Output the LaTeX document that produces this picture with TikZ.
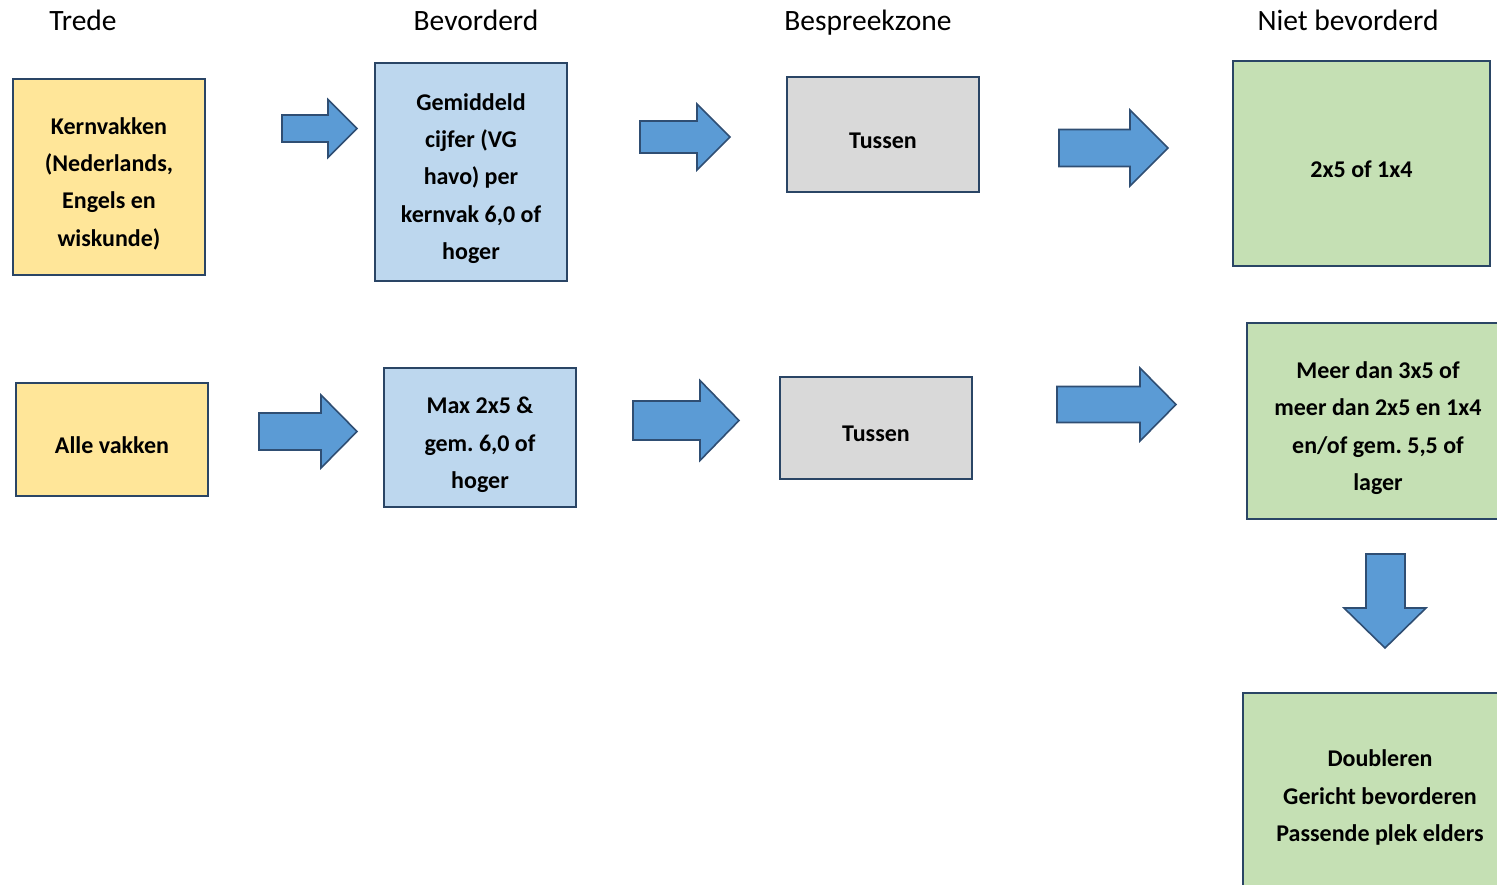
\documentclass[tikz,border=0pt]{standalone}
\usepackage{fontspec}
\setmainfont{Carlito}
\frenchspacing
\definecolor{edge}{HTML}{2A4565}
\definecolor{yel}{HTML}{FFE699}
\definecolor{lblue}{HTML}{BDD7EE}
\definecolor{lgrey}{HTML}{D9D9D9}
\definecolor{lgreen}{HTML}{C5E0B4}
\definecolor{arrfill}{HTML}{5B9BD5}
\definecolor{arredge}{HTML}{2F4E73}
\tikzset{
  box/.style={draw=edge, line width=2pt, inner sep=0pt},
  txt/.style={align=center, inner sep=0pt,
    font=\fontsize{24}{37.4}\selectfont\bfseries},
  hdr/.style={font=\fontsize{29.5}{32}\selectfont, inner sep=0pt, anchor=base},
  blockarrow/.style={draw=arredge, fill=arrfill, line width=1.6pt, line join=miter},
}
\newcommand{\rarrow}[6]{% x0 x1 xh ymid shafthalf headhalf
  \draw[blockarrow] (#1,#4-#5) -- (#3,#4-#5) -- (#3,#4-#6) -- (#2,#4) -- (#3,#4+#6) -- (#3,#4+#5) -- (#1,#4+#5) -- cycle;}
\begin{document}
\begin{tikzpicture}[x=1pt,y=-1pt]
\useasboundingbox (0,0) rectangle (1497,885);
\clip (0,0) rectangle (1497,885);
% headers
\node[hdr] (h1) at (83,31) {Trede};
\node[hdr] (h2) at (476,31) {Bevorderd};
\node[hdr] (h3) at (868,31) {Bespreekzone};
\node[hdr] (h4) at (1348,31) {Niet bevorderd};
% row 1 boxes
\node[box, fill=yel, minimum width=192pt, minimum height=196pt] (kern) at (109,177) {};
\node[box, fill=lblue, minimum width=192pt, minimum height=218pt] (gem) at (471,172) {};
\node[box, fill=lgrey, minimum width=192pt, minimum height=115pt] (t1) at (883,134.5) {};
\node[box, fill=lgreen, minimum width=257pt, minimum height=205pt] (n1) at (1361.5,163.5) {};
% row 2 boxes
\node[box, fill=yel, minimum width=192pt, minimum height=113pt] (alle) at (112,439.5) {};
\node[box, fill=lblue, minimum width=192pt, minimum height=139pt] (max) at (480,437.5) {};
\node[box, fill=lgrey, minimum width=192pt, minimum height=102pt] (t2) at (876,428) {};
\node[box, fill=lgreen, minimum width=290pt, minimum height=196pt] (meer) at (1392,421) {};
\node[box, fill=lgreen, minimum width=290pt, minimum height=260pt] (doub) at (1388,823) {};
% texts
\node[txt] (kernt) at (109,183.5) {Kernvakken\\(Nederlands,\\Engels en\\wiskunde)};
\node[txt] (gemt) at (471,178.5) {Gemiddeld\\cijfer (VG\\havo) per\\kernvak 6,0 of\\hoger};
\node[txt] (t1t) at (883,140.5) {Tussen};
\node[txt] (n1t) at (1361.5,169) {2x5 of 1x4};
\node[txt] (allet) at (112,445) {Alle vakken};
\node[txt] (maxt) at (480,445) {Max 2x5 \&\\gem. 6,0 of\\hoger};
\node[txt] (t2t) at (876,434) {Tussen};
\node[txt] (meert) at (1378,428) {Meer dan 3x5 of\\meer dan 2x5 en 1x4\\en/of gem. 5,5 of\\lager};
\node[txt] (doubt) at (1380,797.5) {Doubleren\\Gericht bevorderen\\Passende plek elders};
% arrows
\rarrow{282}{357}{328}{128.5}{13.5}{29}
\rarrow{640}{730}{697}{137}{16}{33}
\rarrow{1059}{1168}{1130}{148}{18.5}{38}
\rarrow{259}{357}{321}{431.5}{18.5}{36.5}
\rarrow{633}{739}{700}{420.5}{19.5}{40}
\rarrow{1057}{1176}{1140}{404.5}{18}{36.5}
\draw[blockarrow] (1366,554) -- (1405,554) -- (1405,608) -- (1426,608) -- (1385,648) -- (1344,608) -- (1366,608) -- cycle;
\end{tikzpicture}
\end{document}
